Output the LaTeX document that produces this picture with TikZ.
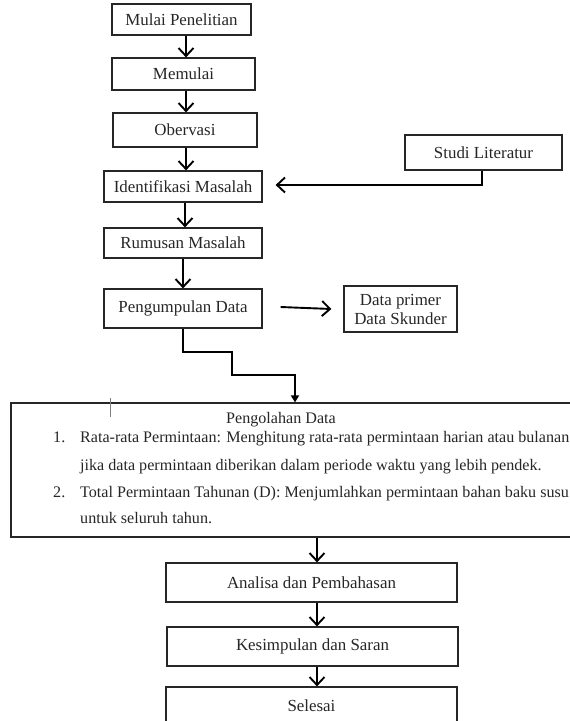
\documentclass[tikz,border=0pt]{standalone}
\usepackage{fontspec}
\setmainfont{Liberation Serif}
\usetikzlibrary{arrows.meta,positioning,calc}
\begin{document}
\begin{tikzpicture}[x=1pt,y=-1pt,
  every node/.style={font=\fontsize{16.9}{19}\selectfont,text=black!85},
  box/.style={draw=black!85,line width=1.2pt,inner sep=0pt,align=center},
  txt/.style={inner sep=0pt,anchor=base west,font=\fontsize{16.1}{19}\selectfont},
  arr/.style={line width=1.9pt,-{Straight Barb[length=8pt,width=15pt,line width=1.9pt]}}]
  \useasboundingbox (0,0) rectangle (570,721);
  \node[box,minimum width=139pt,minimum height=31pt] (mulai) at (181.5,19.5) {Mulai Penelitian};
  \node[box,minimum width=143pt,minimum height=32pt] (memulai) at (183.5,74) {Memulai};
  \node[box,minimum width=144pt,minimum height=34pt] (obs) at (185,130) {Obervasi};
  \node[box,minimum width=158pt,minimum height=31pt] (ident) at (183,186.5) {Identifikasi Masalah};
  \node[box,minimum width=158pt,minimum height=30pt] (rumus) at (183,243) {Rumusan Masalah};
  \node[box,minimum width=158pt,minimum height=39pt] (kumpul) at (183,308.5) {Pengumpulan Data};
  \node[box,minimum width=113pt,minimum height=46pt] (primer) at (400.5,309) {Data primer\\Data Skunder};
  \node[box,minimum width=157pt,minimum height=35pt] (studi) at (483.5,152.5) {Studi Literatur};
  \node[box,minimum width=574pt,minimum height=134pt] (olah) at (298,470) {};
  \node[box,minimum width=291pt,minimum height=39pt] (analisa) at (311.5,582.5) {Analisa dan Pembahasan};
  \node[box,minimum width=291pt,minimum height=39pt] (simpul) at (312.5,646.5) {Kesimpulan dan Saran};
  \node[box,minimum width=291pt,minimum height=38pt] (selesai) at (311.5,706) {Selesai};

  \node[inner sep=0pt,anchor=base,font=\fontsize{16.1}{19}\selectfont] (olahT) at (281,423) {Pengolahan Data};
  \node[txt] (n1) at (53,442) {1.};
  \node[txt] (i1a) at (80,442) {Rata-rata Permintaan: Menghitung rata-rata permintaan harian atau bulanan};
  \node[txt] (i1b) at (80,470) {jika data permintaan diberikan dalam periode waktu yang lebih pendek.};
  \node[txt] (n2) at (53,497) {2.};
  \node[txt] (i2a) at (80,497) {Total Permintaan Tahunan (D): Menjumlahkan permintaan bahan baku susu};
  \node[txt] (i2b) at (80,523) {untuk seluruh tahun.};
  \draw[gray,line width=0.6pt] (110,398) -- (110,417);

  \draw[arr] (mulai.south -| 186,0) -- (memulai.north -| 186,0);
  \draw[arr] (memulai.south -| 186,0) -- (obs.north -| 186,0);
  \draw[arr] (obs.south -| 186,0) -- (ident.north -| 186,0);
  \draw[arr] (ident.south -| 185,0) -- (rumus.north -| 185,0);
  \draw[arr] (rumus.south) -- (kumpul.north);
  \draw[arr] (studi.south -| 482,0) |- ([xshift=13pt,yshift=1.5pt]ident.east);
  \draw[arr] ([xshift=18pt,yshift=1.5pt]kumpul.east) -- ([xshift=-12pt]primer.west);
  \draw[line width=1.9pt,-{Triangle[length=7pt,width=8pt]}] (kumpul.south) -- ++(0,23) -- ++(49,0) -- ++(0,23) -- ++(63,0) coordinate (k1) -- (k1 |- olah.north);
  \draw[arr] (olah.south -| 317,0) -- (analisa.north -| 317,0);
  \draw[arr] (analisa.south -| 317,0) -- (simpul.north -| 317,0);
  \draw[arr] (simpul.south -| 317,0) -- (selesai.north -| 317,0);
\end{tikzpicture}
\end{document}
